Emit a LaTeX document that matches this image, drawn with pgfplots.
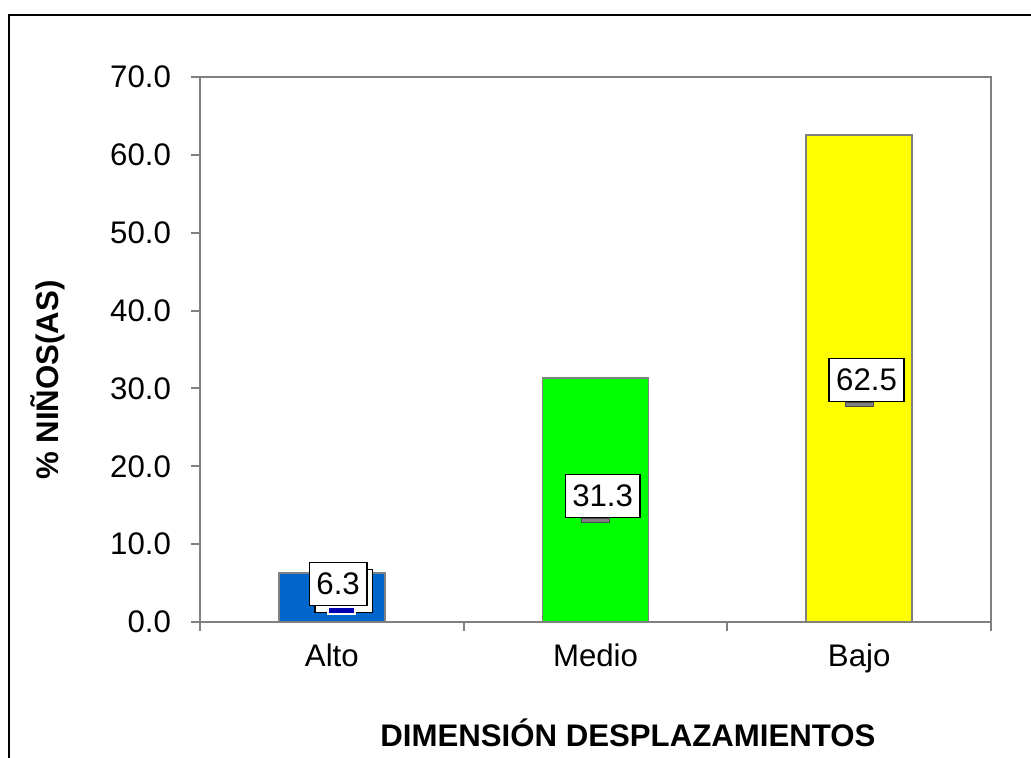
\documentclass[border=0pt]{standalone}
\usepackage{fontspec}
\setmainfont{Liberation Sans}
\usepackage{pgfplots}
\pgfplotsset{compat=1.18}
\usetikzlibrary{calc,shadows}
\definecolor{barblue}{RGB}{0,102,204}
\definecolor{bargreen}{RGB}{0,255,0}
\definecolor{baryellow}{RGB}{255,255,0}
\definecolor{axgray}{RGB}{128,128,128}
\tikzset{lbl/.style={draw=black, fill=white, line width=0.75bp, anchor=center,
  inner xsep=3.5bp, inner ysep=0pt, text height=11bp, text depth=0pt, minimum height=21.5bp}}

\begin{document}
\begin{tikzpicture}[font=\fontsize{15.6bp}{18bp}\selectfont]
\begin{axis}[
  width=395.5bp, height=272.5bp, scale only axis,
  xmin=-0.5, xmax=2.5, ymin=0, ymax=70,
  xtick={-0.5,0.5,1.5,2.5},
  xticklabels={Alto,Medio,Bajo},
  x tick label as interval,
  ytick={0,10,...,70},
  axis line style={axgray, line width=1bp},
  tick style={axgray, line width=1bp},
  tick align=outside, tick pos=left,
  major tick length=4.5bp,
  yticklabel style={xshift=-6.5bp, /pgf/number format/.cd, fixed, fixed zerofill, precision=1, assume math mode=true},
  xticklabel style={yshift=-3bp},
  ylabel={\bfseries \% NIÑOS(AS)},
  ylabel style={at={(axis description cs:-0.192,0.444)}, anchor=center},
  xlabel={\bfseries DIMENSIÓN DESPLAZAMIENTOS},
  xlabel style={at={(axis description cs:0.541,-0.204)}, anchor=center},
  clip=false,
]
% bars
\addplot[ybar, bar width=53bp, bar shift=0pt, fill=barblue, draw=axgray, line width=0.9bp] coordinates {(0,6.3)};
\addplot[ybar, bar width=53bp, bar shift=0pt, fill=bargreen, draw=axgray, line width=0.9bp] coordinates {(1,31.3)};
\addplot[ybar, bar width=53bp, bar shift=0pt, fill=baryellow, draw=axgray, line width=0.9bp] coordinates {(2,62.5)};

% data labels (moved boxes, as in the source sheet)
\addplot[draw=none, mark=none, nodes near coords, point meta=explicit symbolic,
  nodes near coords style={lbl,
    copy shadow={shadow xshift=2.75bp, shadow yshift=-3.5bp, fill=white, draw=black, line width=0.75bp},
    label={[anchor=north, xshift=1.75bp, fill=blue!70!black, draw=white, line width=0.75bp, minimum width=13.5bp, minimum height=3.5bp, inner sep=0pt]below:{}}}]
  coordinates {(0.024,4.9)[6.3]};
\addplot[draw=none, mark=none, nodes near coords, point meta=explicit symbolic,
  nodes near coords style={lbl,
    label={[anchor=north, xshift=-3.75bp, fill=axgray, draw=black!70, line width=0.5bp, minimum width=14bp, minimum height=2bp, inner sep=0pt]below:{}}}]
  coordinates {(1.027,16.2)[31.3]};
\addplot[draw=none, mark=none, nodes near coords, point meta=explicit symbolic,
  nodes near coords style={lbl,
    label={[anchor=north, xshift=-3.75bp, fill=axgray, draw=black!70, line width=0.5bp, minimum width=14bp, minimum height=2bp, inner sep=0pt]below:{}}}]
  coordinates {(2.028,31.1)[62.5]};

\coordinate (SW) at (rel axis cs:0,0);
\coordinate (NE) at (rel axis cs:1,1);
\end{axis}
\pgfresetboundingbox
\path[use as bounding box] ($(SW)+(-100bp,-68bp)$) rectangle ($(NE)+(20bp,38.5bp)$);
\draw[line width=1bp] ($(SW)+(-95.5bp,-80bp)$) |- ($(NE)+(40bp,31bp)$);
\end{tikzpicture}
\end{document}
